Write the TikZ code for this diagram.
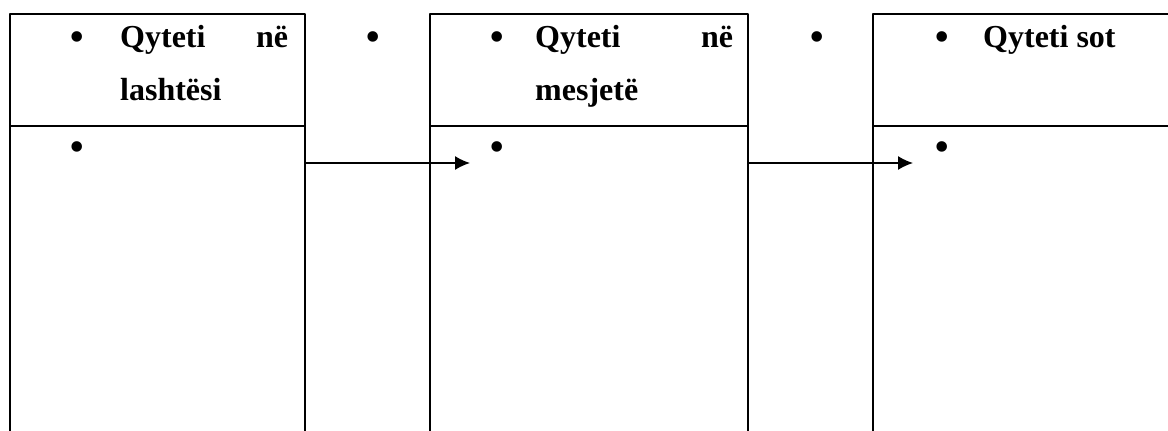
\documentclass[tikz,border=0pt]{standalone}
\usepackage{fontspec}
\setmainfont{Liberation Serif}
\usetikzlibrary{positioning, arrows.meta}

\begin{document}
\begin{tikzpicture}[x=1pt, y=-1pt, >={Latex[length=15pt,width=14pt]}, line join=bevel,
        cell/.style={draw, line width=2pt, rectangle, inner sep=0pt, outer sep=0pt},
        dot/.style={inner sep=0pt, anchor=base, font=\fontsize{44}{53}\selectfont},
        head/.style={inner sep=0pt, anchor=base west, align=left,
                font=\fontsize{32}{53}\selectfont\bfseries}]
        \useasboundingbox (0,0) rectangle (1168,431);
        \clip (0,0) rectangle (1168,431);
        % the three columns
        \node[cell, minimum width=295pt, minimum height=112pt] (head1) at (157.5,70) {};
        \node[cell, minimum width=318pt, minimum height=112pt] (head2) at (589,70) {};
        \node[cell, minimum width=347pt, minimum height=112pt] (head3) at (1046.5,70) {};
        \foreach \i/\w in {1/295, 2/318, 3/347}
          \node[cell, minimum width=\w pt, minimum height=344pt, below=0pt of head\i] (body\i) {};
        % titles
        \node[head, text width=168pt] (title1) at (120,47) {Qyteti\hfill në\\lashtësi};
        \node[head, text width=198pt] (title2) at (535,47) {Qyteti\hfill në\\mesjetë};
        \node[head] (title3) at (983,47) {Qyteti sot};
        % bullets
        \foreach \x/\n in {77/1, 497/2, 942/3} {
          \node[dot] (hb\n) at (\x,51) {\textbullet};
          \node[dot] (bb\n) at (\x,161) {\textbullet};
        }
        \node[dot] (gb1) at (373,51) {\textbullet};
        \node[dot] (gb2) at (817,51) {\textbullet};
        % arrows
        \coordinate (tip1) at (470,163);
        \coordinate (tip2) at (913,163);
        \draw[->, line width=1.5pt] (body1.east |- tip1) -- (tip1);
        \draw[->, line width=1.5pt] (body2.east |- tip2) -- (tip2);
      \end{tikzpicture}
\end{document}
